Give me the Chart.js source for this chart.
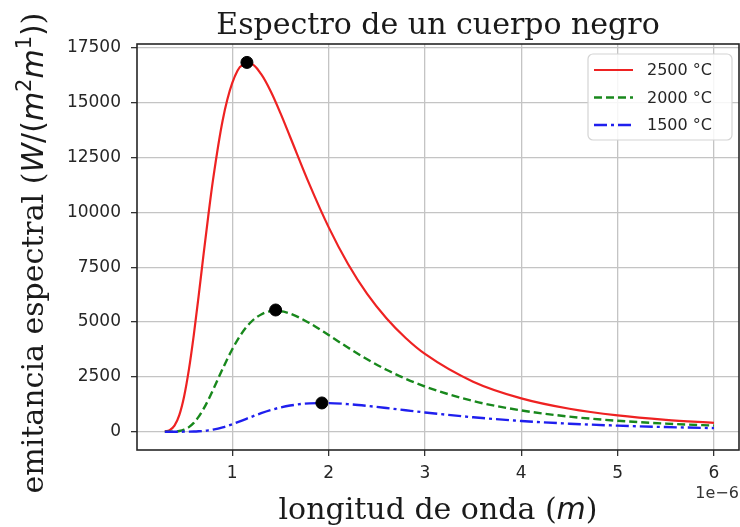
<!DOCTYPE html>
<html>
<head>
<meta charset="utf-8">
<script src="https://cdn.jsdelivr.net/npm/chart.js@4.4.1/dist/chart.umd.min.js"></script>
<style>
  html, body { margin: 0; padding: 0; background: #fff; }
  #wrap { width: 740px; height: 527px; }
</style>
</head>
<body>
<div id="wrap"><canvas id="grafico"></canvas></div>
<script>
// longitud de onda, en unidades de 1e-6 m
const longitud = [0.3, 0.35, 0.4, 0.45, 0.5, 0.55, 0.6, 0.65, 0.7, 0.75, 0.8, 0.9, 1.0, 1.1, 1.2, 1.3, 1.4, 1.5, 1.6, 1.8,
  2.0, 2.2, 2.4, 2.6, 2.8, 3.0, 3.5, 4.0, 4.5, 5.0, 5.5, 6.0];

const emit2500 = [10, 69, 275, 757, 1607, 2840, 4395, 6161, 8015, 9812, 11483, 14193, 15903, 16704, 16765, 16302, 15513, 14527, 13450, 11288,
  9328, 7660, 6284, 5175, 4273, 3546, 2282, 1520, 1046, 741, 538, 400];
const emit2000 = [0, 1, 8, 31, 90, 208, 400, 673, 1025, 1440, 1900, 2864, 3762, 4497, 5025, 5346, 5492, 5493, 5385, 4958,
  4407, 3838, 3303, 2826, 2414, 2060, 1400, 970, 687, 498, 369, 278];
const emit1500 = [0, 0, 0, 0, 1, 3, 7, 17, 33, 59, 95, 199, 342, 508, 680, 843, 986, 1104, 1192, 1291,
  1304, 1257, 1176, 1080, 978, 878, 657, 489, 365, 276, 211, 163];

// maximos (puntos negros)
const picoX = [1.152, 1.45, 1.93];
const picoY = [16840, 5550, 1310];

const etiquetas = ["2500 °C", "2000 °C", "1500 °C"];
const ticksX = [1, 2, 3, 4, 5, 6];
const ticksY = [0, 2500, 5000, 7500, 10000, 12500, 15000, 17500];

function puntos(xs, ys) {
  return xs.map((x, i) => ({ x: x, y: ys[i] }));
}

const serif = "'DejaVu Serif', serif";
const sans = "'DejaVu Sans', sans-serif";

function dibujarPartes(ctx, partes, cx, cy) {
  let total = 0;
  partes.forEach((p) => { ctx.font = p.f; p.w = ctx.measureText(p.t).width; total += p.w; });
  let x = cx - total / 2;
  ctx.textBaseline = "alphabetic";
  ctx.textAlign = "left";
  partes.forEach((p) => {
    ctx.font = p.f;
    ctx.fillText(p.t, x, cy - (p.sup ? p.sup : 0));
    x += p.w;
  });
}

const decoracion = {
  id: "decoracion",
  afterDraw(chart) {
    const ctx = chart.ctx;
    const a = chart.chartArea;
    ctx.save();

    // marco
    ctx.strokeStyle = "#262626";
    ctx.lineWidth = 1.6;
    ctx.strokeRect(a.left, a.top, a.right - a.left, a.bottom - a.top);

    ctx.fillStyle = "#1a1a1a";
    // titulo
    ctx.font = "30px " + serif;
    ctx.textAlign = "center";
    ctx.textBaseline = "alphabetic";
    ctx.fillText("Espectro de un cuerpo negro", (a.left + a.right) / 2, 34);

    // eje x
    dibujarPartes(ctx, [
      { t: "longitud de onda (", f: "30px " + serif },
      { t: "m", f: "italic 30px " + sans },
      { t: ")", f: "30px " + serif }
    ], (a.left + a.right) / 2, 519);

    // eje y
    ctx.save();
    ctx.translate(43, 253);
    ctx.rotate(-Math.PI / 2);
    dibujarPartes(ctx, [
      { t: "emitancia espectral (", f: "30px " + serif },
      { t: "W", f: "italic 30px " + sans },
      { t: "/(", f: "30px " + sans },
      { t: "m", f: "italic 30px " + sans },
      { t: "2", f: "21px " + sans, sup: 12 },
      { t: "m", f: "italic 30px " + sans },
      { t: "1", f: "21px " + sans, sup: 12 },
      { t: ")", f: "30px " + sans },
      { t: ")", f: "30px " + serif }
    ], 0, 0);
    ctx.restore();

    // factor de escala
    ctx.font = "16px " + sans;
    ctx.textAlign = "center";
    ctx.textBaseline = "middle";
    ctx.fillStyle = "#333";
    ctx.fillText("1e\u22126", 717, 494);

    // leyenda
    const lx = 588, ly = 54, lw = 144, lh = 86;
    ctx.beginPath();
    ctx.roundRect(lx, ly, lw, lh, 5);
    ctx.fillStyle = "rgba(255,255,255,0.85)";
    ctx.fill();
    ctx.strokeStyle = "#d4d4d4";
    ctx.lineWidth = 1.2;
    ctx.stroke();
    chart.data.datasets.slice(0, 3).forEach((ds, i) => {
      const y = 70 + i * 27.5;
      ctx.beginPath();
      ctx.setLineDash(ds.borderDash || []);
      ctx.strokeStyle = ds.borderColor;
      ctx.lineWidth = ds.borderWidth;
      ctx.moveTo(594, y);
      ctx.lineTo(633, y);
      ctx.stroke();
      ctx.setLineDash([]);
      ctx.fillStyle = "#262626";
      ctx.font = "16px " + sans;
      ctx.textAlign = "left";
      ctx.textBaseline = "middle";
      ctx.fillText(ds.label, 647, y + 1);
    });
    ctx.restore();
  }
};

new Chart(document.getElementById("grafico"), {
  type: "line",
  data: {
    datasets: [
      {
        label: etiquetas[0],
        data: puntos(longitud, emit2500),
        borderColor: "#ee2222",
        borderWidth: 2.2,
        pointRadius: 0,
        cubicInterpolationMode: "monotone",
        order: 3
      },
      {
        label: etiquetas[1],
        data: puntos(longitud, emit2000),
        borderColor: "#18881c",
        borderWidth: 2.4,
        borderDash: [8, 4],
        pointRadius: 0,
        cubicInterpolationMode: "monotone",
        order: 2
      },
      {
        label: etiquetas[2],
        data: puntos(longitud, emit1500),
        borderColor: "#1f1fee",
        borderWidth: 2.4,
        borderDash: [13, 4, 3, 4],
        pointRadius: 0,
        cubicInterpolationMode: "monotone",
        order: 1
      },
      {
        label: "picos",
        data: puntos(picoX, picoY),
        showLine: false,
        pointRadius: 6,
        pointBackgroundColor: "#000",
        pointBorderColor: "#000",
        order: 0
      }
    ]
  },
  options: {
    responsive: true,
    maintainAspectRatio: false,
    animation: false,
    layout: { autoPadding: false, padding: { top: 44, right: 1, left: 0, bottom: 0 } },
    plugins: {
      legend: { display: false },
      tooltip: { enabled: false },
      title: { display: false }
    },
    scales: {
      x: {
        type: "linear",
        min: 0.011,
        max: 6.26,
        afterBuildTicks: (s) => { s.ticks = ticksX.map((v) => ({ value: v })); },
        afterFit: (s) => { s.height = 77; s.paddingLeft = 0; s.paddingRight = 0; },
        ticks: {
          autoSkip: false,
          maxRotation: 0,
          padding: 7,
          color: "#262626",
          font: { family: "DejaVu Sans", size: 17 },
          callback: (v) => String(v)
        },
        grid: { color: "#c4c4c4", lineWidth: 1.3, tickLength: 6, tickColor: "#333", tickWidth: 1.3 },
        border: { display: false }
      },
      y: {
        min: -835,
        max: 17680,
        afterBuildTicks: (s) => { s.ticks = ticksY.map((v) => ({ value: v })); },
        afterFit: (s) => { s.width = 137; s.paddingTop = 0; s.paddingBottom = 0; },
        ticks: {
          autoSkip: false,
          padding: 10,
          color: "#262626",
          font: { family: "DejaVu Sans", size: 17 },
          callback: (v) => String(v)
        },
        grid: { color: "#c4c4c4", lineWidth: 1.3, tickLength: 6, tickColor: "#333", tickWidth: 1.3 },
        border: { display: false }
      }
    }
  },
  plugins: [decoracion]
});
</script>
</body>
</html>
